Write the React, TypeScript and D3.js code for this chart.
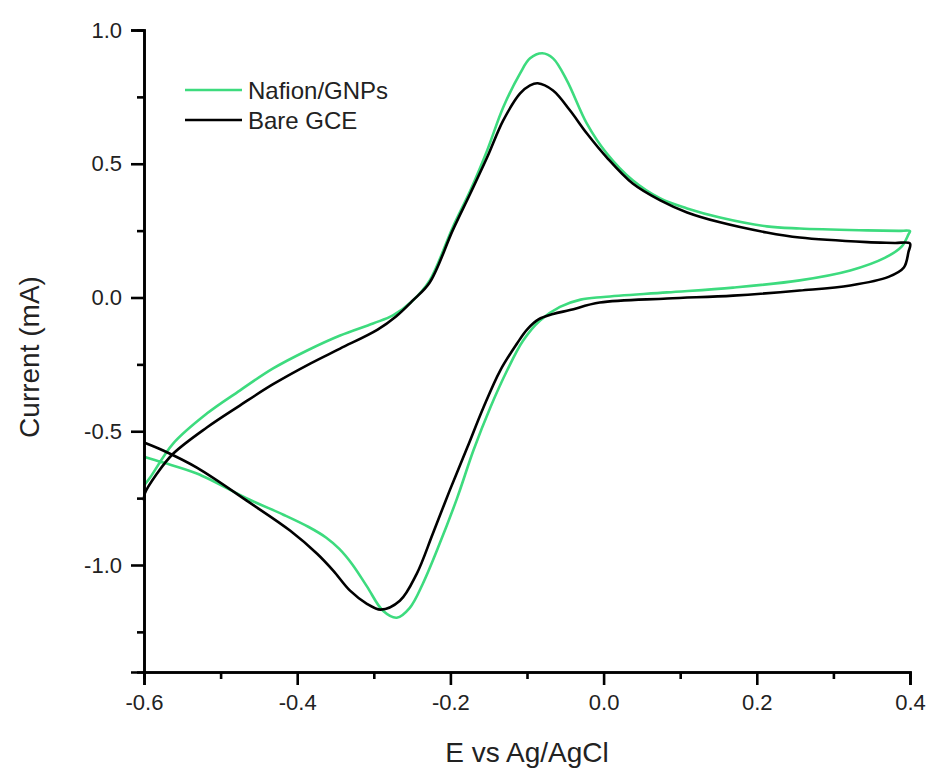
import React, { useRef, useEffect } from "react";
import { select, scaleLinear, line, curveCatmullRom, axisLeft, axisBottom } from "d3";

// cyclic voltammograms: forward (anodic) scan then reverse scan, [E (V), I (mA)]
const nafionForward: [number, number][] = [
  [-0.6, -0.703], [-0.592, -0.673], [-0.562, -0.546], [-0.518, -0.434], [-0.475, -0.348],
  [-0.432, -0.266], [-0.387, -0.198], [-0.344, -0.142], [-0.301, -0.097], [-0.275, -0.067],
  [-0.249, -0.011], [-0.227, 0.064], [-0.197, 0.262], [-0.174, 0.4], [-0.152, 0.55],
  [-0.131, 0.711], [-0.109, 0.838], [-0.096, 0.894], [-0.08, 0.913], [-0.066, 0.894],
  [-0.048, 0.812], [-0.022, 0.651], [0.004, 0.539], [0.038, 0.438], [0.074, 0.37],
  [0.109, 0.333], [0.152, 0.299], [0.213, 0.266], [0.256, 0.258], [0.344, 0.251],
  [0.385, 0.249], [0.4, 0.248],
];
const nafionReverse: [number, number][] = [
  [0.398, 0.236], [0.389, 0.19], [0.367, 0.148], [0.322, 0.101], [0.256, 0.064],
  [0.169, 0.037], [0.083, 0.019], [0.0, 0.002], [-0.03, -0.008], [-0.057, -0.035],
  [-0.083, -0.086], [-0.105, -0.161], [-0.126, -0.273], [-0.148, -0.412], [-0.17, -0.572],
  [-0.191, -0.748], [-0.214, -0.92], [-0.236, -1.07], [-0.253, -1.16], [-0.27, -1.197],
  [-0.288, -1.171], [-0.309, -1.08], [-0.328, -0.998], [-0.345, -0.94], [-0.362, -0.898],
  [-0.385, -0.858], [-0.418, -0.812], [-0.462, -0.756], [-0.531, -0.658], [-0.575, -0.617],
  [-0.6, -0.595],
];
const bareForward: [number, number][] = [
  [-0.6, -0.759], [-0.599, -0.733], [-0.583, -0.658], [-0.562, -0.584], [-0.518, -0.486],
  [-0.475, -0.404], [-0.432, -0.325], [-0.383, -0.247], [-0.344, -0.191], [-0.295, -0.12],
  [-0.271, -0.071], [-0.249, -0.011], [-0.227, 0.056], [-0.197, 0.251], [-0.174, 0.389],
  [-0.152, 0.524], [-0.131, 0.662], [-0.109, 0.763], [-0.096, 0.793], [-0.086, 0.801],
  [-0.066, 0.774], [-0.044, 0.7], [-0.022, 0.614], [0.004, 0.524], [0.038, 0.426],
  [0.074, 0.363], [0.109, 0.318], [0.152, 0.281], [0.213, 0.243], [0.256, 0.224],
  [0.344, 0.207], [0.38, 0.204], [0.4, 0.202],
];
const bareReverse: [number, number][] = [
  [0.398, 0.17], [0.392, 0.112], [0.372, 0.077], [0.322, 0.045], [0.256, 0.026],
  [0.169, 0.007], [0.083, -0.004], [-0.005, -0.019], [-0.044, -0.047], [-0.066, -0.062],
  [-0.085, -0.082], [-0.1, -0.12], [-0.113, -0.172], [-0.135, -0.273], [-0.157, -0.412],
  [-0.178, -0.561], [-0.201, -0.722], [-0.223, -0.883], [-0.244, -1.033], [-0.266, -1.134],
  [-0.291, -1.167], [-0.309, -1.145], [-0.331, -1.096], [-0.353, -1.021], [-0.374, -0.958],
  [-0.409, -0.872], [-0.462, -0.767], [-0.531, -0.636], [-0.575, -0.572], [-0.6, -0.542],
];

const seriesNames = ["Nafion/GNPs", "Bare GCE"];
const seriesColors = ["#3ddb7e", "#000000"];

const xMajorTicks = [-0.6, -0.4, -0.2, 0.0, 0.2, 0.4];
const xMinorTicks = [-0.5, -0.3, -0.1, 0.1, 0.3];
const yMajorTicks = [-1.0, -0.5, 0.0, 0.5, 1.0];
const yMinorTicks = [-1.25, -0.75, -0.25, 0.25, 0.75];

const FONT = "'Liberation Sans', Arial, sans-serif";

export default function App() {
  const svgRef = useRef<SVGSVGElement>(null);

  useEffect(() => {
    const svg = select(svgRef.current);
    svg.selectAll("*").remove();

    const width = 930;
    const height = 769;
    const margin = { top: 30, right: 20, bottom: 97, left: 144 };

    const xScale = scaleLinear()
      .domain([-0.6, 0.4])
      .range([margin.left, width - margin.right]);

    const yScale = scaleLinear()
      .domain([-1.4, 1.0])
      .range([height - margin.bottom, margin.top]);

    const lineGen = line<[number, number]>()
      .x(d => xScale(d[0]))
      .y(d => yScale(d[1]))
      .curve(curveCatmullRom.alpha(0.5));

    const curves = [
      nafionForward.concat(nafionReverse),
      bareForward.concat(bareReverse),
    ];

    // green first, black drawn on top
    svg
      .selectAll(".cv")
      .data(curves)
      .join("path")
      .attr("class", "cv")
      .attr("d", d => lineGen(d))
      .attr("fill", "none")
      .attr("stroke", (d, i) => seriesColors[i])
      .attr("stroke-width", 2.6)
      .attr("stroke-linejoin", "round");

    const fmt = (d: number) => d.toFixed(1);

    // axes
    const xAxisG = svg.append("g").attr("transform", `translate(0,${height - margin.bottom})`);
    xAxisG.call(axisBottom(xScale).tickValues(xMinorTicks).tickSize(7).tickFormat(() => ""));
    xAxisG.append("g").call(axisBottom(xScale).tickValues(xMajorTicks).tickSize(13).tickPadding(9).tickFormat(fmt as any));

    const yAxisG = svg.append("g").attr("transform", `translate(${margin.left},0)`);
    yAxisG.call(axisLeft(yScale).tickValues(yMinorTicks).tickSize(7).tickFormat(() => ""));
    yAxisG.append("g").call(axisLeft(yScale).tickValues(yMajorTicks).tickSize(13).tickPadding(9).tickFormat(fmt as any));

    svg.selectAll(".domain").attr("stroke", "#000").attr("stroke-width", 2.6);
    svg.selectAll(".tick line").attr("stroke", "#000").attr("stroke-width", 2.6);
    svg.selectAll(".tick text")
      .attr("fill", "#222")
      .style("font-family", FONT)
      .style("font-size", "22px");

    // axis titles
    svg.append("text")
      .attr("x", (margin.left + width - margin.right) / 2)
      .attr("y", 762)
      .attr("text-anchor", "middle")
      .style("font-family", FONT)
      .style("font-size", "28px")
      .attr("fill", "#222")
      .text("E vs Ag/AgCl");

    svg.append("text")
      .attr("transform", `translate(39,357) rotate(-90)`)
      .attr("text-anchor", "middle")
      .style("font-family", FONT)
      .style("font-size", "28px")
      .attr("fill", "#222")
      .text("Current (mA)");

    // legend
    const legend = svg.append("g").attr("transform", "translate(185,90)");
    seriesNames.forEach((name, i) => {
      const row = legend.append("g").attr("transform", `translate(0,${i * 30})`);
      row.append("line")
        .attr("x1", 0).attr("x2", 57).attr("y1", 0).attr("y2", 0)
        .attr("stroke", seriesColors[i])
        .attr("stroke-width", 2.6);
      row.append("text")
        .attr("x", 63)
        .attr("y", 8.5)
        .style("font-family", FONT)
        .style("font-size", "24px")
        .attr("fill", "#222")
        .text(name);
    });
  }, []);

  return (
    <svg
      ref={svgRef}
      width="930"
      height="769"
      style={{ position: "absolute", left: 0, top: 0, background: "#fff" }}
    />
  );
}
